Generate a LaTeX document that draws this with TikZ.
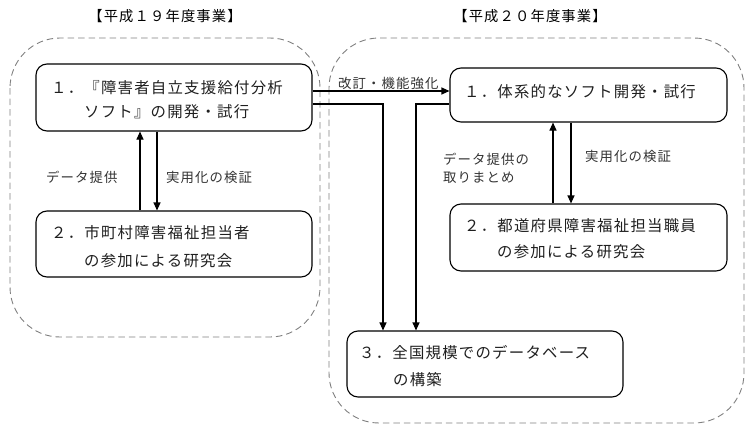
\documentclass[tikz,border=0pt]{standalone}
\usepackage{fontspec}
\newfontfamily\jp[LetterSpace=8]{Noto Sans CJK JP}
\usetikzlibrary{arrows.meta}
\begin{document}
\begin{tikzpicture}[x=1pt,y=-1pt,
  box/.style={draw, line width=1.1pt, rounded corners=11pt, inner sep=0pt},
  grp/.style={draw=black!50, dash pattern=on 6.5pt off 4pt, line width=0.9pt, rounded corners=50pt},
  txt/.style={anchor=west, inner sep=0pt, text=black!88, font=\jp\fontsize{15.4}{17}\selectfont},
  lbl/.style={anchor=west, inner sep=0pt, text=black!80, font=\jp\fontsize{13.4}{15}\selectfont},
  ttl/.style={inner sep=0pt, text=black, font=\jp\fontsize{14.3}{16}\selectfont},
  arr/.style={-{Triangle[length=8pt,width=7pt]}, line width=1.1pt},
  ]
\useasboundingbox (0,0) rectangle (754,436);
% groups
\draw[grp] (10,38) rectangle (320,337);
\draw[grp] (329,38) rectangle (744,423);
% titles
\node[ttl] (T1) at (165,16) {【平成１９年度事業】};
\node[ttl] (T2) at (530,16) {【平成２０年度事業】};
% boxes
\node[box, minimum width=276pt, minimum height=67pt] (L1) at (174,97.5) {};
\node[box, minimum width=276pt, minimum height=66pt] (L2) at (174,244) {};
\node[box, minimum width=277pt, minimum height=54pt] (R1) at (588.5,95) {};
\node[box, minimum width=277pt, minimum height=67pt] (R2) at (588.5,237.5) {};
\node[box, minimum width=276pt, minimum height=66pt] (R3) at (485,364) {};
% box texts
\node[txt] (L1a) at (51,88) {１．『障害者自立支援給付分析};
\node[txt] (L1b) at (84,112) {ソフト』の開発・試行};
\node[txt] (L2a) at (51,233) {２．市町村障害福祉担当者};
\node[txt] (L2b) at (84,261) {の参加による研究会};
\node[txt] (R1a) at (464,92) {１．体系的なソフト開発・試行};
\node[txt] (R2a) at (464,226) {２．都道府県障害福祉担当職員};
\node[txt] (R2b) at (497,252) {の参加による研究会};
\node[txt] (R3a) at (359,353) {３．全国規模でのデータベース};
\node[txt] (R3b) at (393,380) {の構築};
% labels
\node[lbl] (la) at (46,177) {データ提供};
\node[lbl] (lb) at (166,177) {実用化の検証};
\node[lbl] (lc) at (443,159) {データ提供の};
\node[lbl] (ld) at (443,178) {取りまとめ};
\node[lbl] (le) at (585,156) {実用化の検証};
\node[lbl] (lf) at (338,83) {改訂・機能強化};
% connectors
\draw[arr] (L2.north -| 140,0) -- (L1.south -| 140,0);
\draw[arr] (L1.south -| 157,0) -- (L2.north -| 157,0);
\draw[arr] (R2.north -| 553,0) -- (R1.south -| 553,0);
\draw[arr] (R1.south -| 571,0) -- (R2.north -| 571,0);
\draw[arr] (L1.east |- 0,91) -- (R1.west |- 0,91);
\draw[arr] (L1.east |- 0,104) -- (383,104) -- (R3.north -| 383,0);
\draw[arr] (R1.west |- 0,104) -- (416,104) -- (R3.north -| 416,0);
\end{tikzpicture}
\end{document}
